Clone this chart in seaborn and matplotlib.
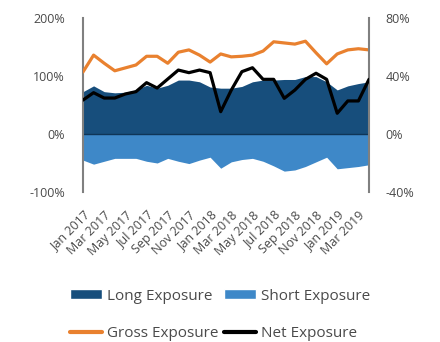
import numpy as np
import pandas as pd
import matplotlib
matplotlib.use("Agg")
import matplotlib.pyplot as plt
from matplotlib.patches import Patch
from matplotlib.lines import Line2D
from matplotlib.ticker import FuncFormatter
import seaborn as sns

# ========== 数据 ==========
months = pd.date_range("2017-01-01", "2019-04-01", freq="MS")
month_labels = [d.strftime("%b %Y") for d in months]

long_exposure = [73, 83, 73, 71, 72, 76, 84, 79, 84, 93, 93, 90, 81, 79,
                 79, 82, 90, 93, 93, 94, 94, 99, 99, 90, 76, 83, 87, 90]
short_exposure = [-45, -52, -47, -42, -42, -42, -47, -50, -42, -47, -51, -45, -40, -59,
                  -48, -44, -42, -47, -55, -64, -62, -56, -48, -40, -60, -58, -56, -53]
gross_exposure = [107, 136, 122, 109, 114, 119, 134, 134, 122, 141, 145, 136, 124, 138,
                  133, 134, 136, 143, 159, 157, 155, 160, 140, 121, 138, 145, 147, 145]
net_exposure = [23.4, 28.5, 24.8, 24.8, 27.6, 29.2, 35.4, 31.7, 37.9, 44.1, 42.3, 44.1, 42.3, 15.4,
                30.3, 43.0, 45.7, 37.7, 37.7, 24.6, 30.3, 37.7, 41.9, 37.7, 14.3, 22.8, 22.8, 37.7]

df = pd.DataFrame({
    "idx": np.arange(len(months)),
    "Long": long_exposure,
    "Short": short_exposure,
    "Gross": gross_exposure,
    "Net": net_exposure,
})

# ========== 样式 ==========
C_LONG = "#174e7c"
C_SHORT = "#3e88c8"
C_GROSS = "#e9812f"
C_NET = "#000000"
C_TEXT = "#4a4a4a"
C_SPINE = "#808080"

sns.set_style("white")
plt.rcParams["font.family"] = ["Open Sans", "DejaVu Sans"]

fig = plt.figure(figsize=(4.4, 3.42), dpi=100)
ax = fig.add_axes([83 / 440, 1 - 192 / 342, 286 / 440, 174 / 342])

ax.fill_between(df["idx"], 0, df["Long"], color=C_LONG, lw=0, zorder=1)
ax.fill_between(df["idx"], 0, df["Short"], color=C_SHORT, lw=0, zorder=1)
ax.axhline(0, color="#0f3557", lw=1, zorder=2)
sns.lineplot(data=df, x="idx", y="Gross", ax=ax, color=C_GROSS, lw=2.3, zorder=3)

ax2 = ax.twinx()
sns.lineplot(data=df, x="idx", y="Net", ax=ax2, color=C_NET, lw=2.3, zorder=3)

ax.set_xlim(0, len(months) - 1)
ax.set_ylim(-100, 200)
ax2.set_ylim(-40, 80)
ax.set_yticks([-100, 0, 100, 200])
ax2.set_yticks([-40, 0, 40, 80])
pct = FuncFormatter(lambda v, p: f"{v:.0f}%")
ax.yaxis.set_major_formatter(pct)
ax2.yaxis.set_major_formatter(pct)

ax.set_xticks(df["idx"][::2])
ax.set_xticklabels(month_labels[::2], rotation=45, ha="right", rotation_mode="anchor")

for a in (ax, ax2):
    a.set_xlabel("")
    a.set_ylabel("")
    for s in a.spines.values():
        s.set_visible(False)
    a.tick_params(axis="both", length=0, labelsize=9, colors=C_TEXT)
ax.tick_params(axis="y", pad=13)
ax2.tick_params(axis="y", pad=12)
ax.tick_params(axis="x", pad=12)
ax.spines["left"].set_visible(True)
ax.spines["left"].set_color(C_SPINE)
ax.spines["left"].set_linewidth(1.5)
ax2.spines["right"].set_visible(True)
ax2.spines["right"].set_color(C_SPINE)
ax2.spines["right"].set_linewidth(1.5)
ax.grid(False)
ax2.grid(False)

handles = [
    Patch(facecolor=C_LONG, label="Long Exposure"),
    Line2D([], [], color=C_GROSS, lw=3, label="Gross Exposure"),
    Patch(facecolor=C_SHORT, label="Short Exposure"),
    Line2D([], [], color=C_NET, lw=3, label="Net Exposure"),
]
leg = fig.legend(handles=handles, loc="center", bbox_to_anchor=(0.5, 1 - 315 / 342),
                 ncol=2, frameon=False, fontsize=11, handlelength=2.1,
                 handleheight=0.65, handletextpad=0.3, columnspacing=0.4,
                 labelspacing=1.5)
for t in leg.get_texts():
    t.set_color(C_TEXT)

plt.savefig("out.png", dpi=100)
